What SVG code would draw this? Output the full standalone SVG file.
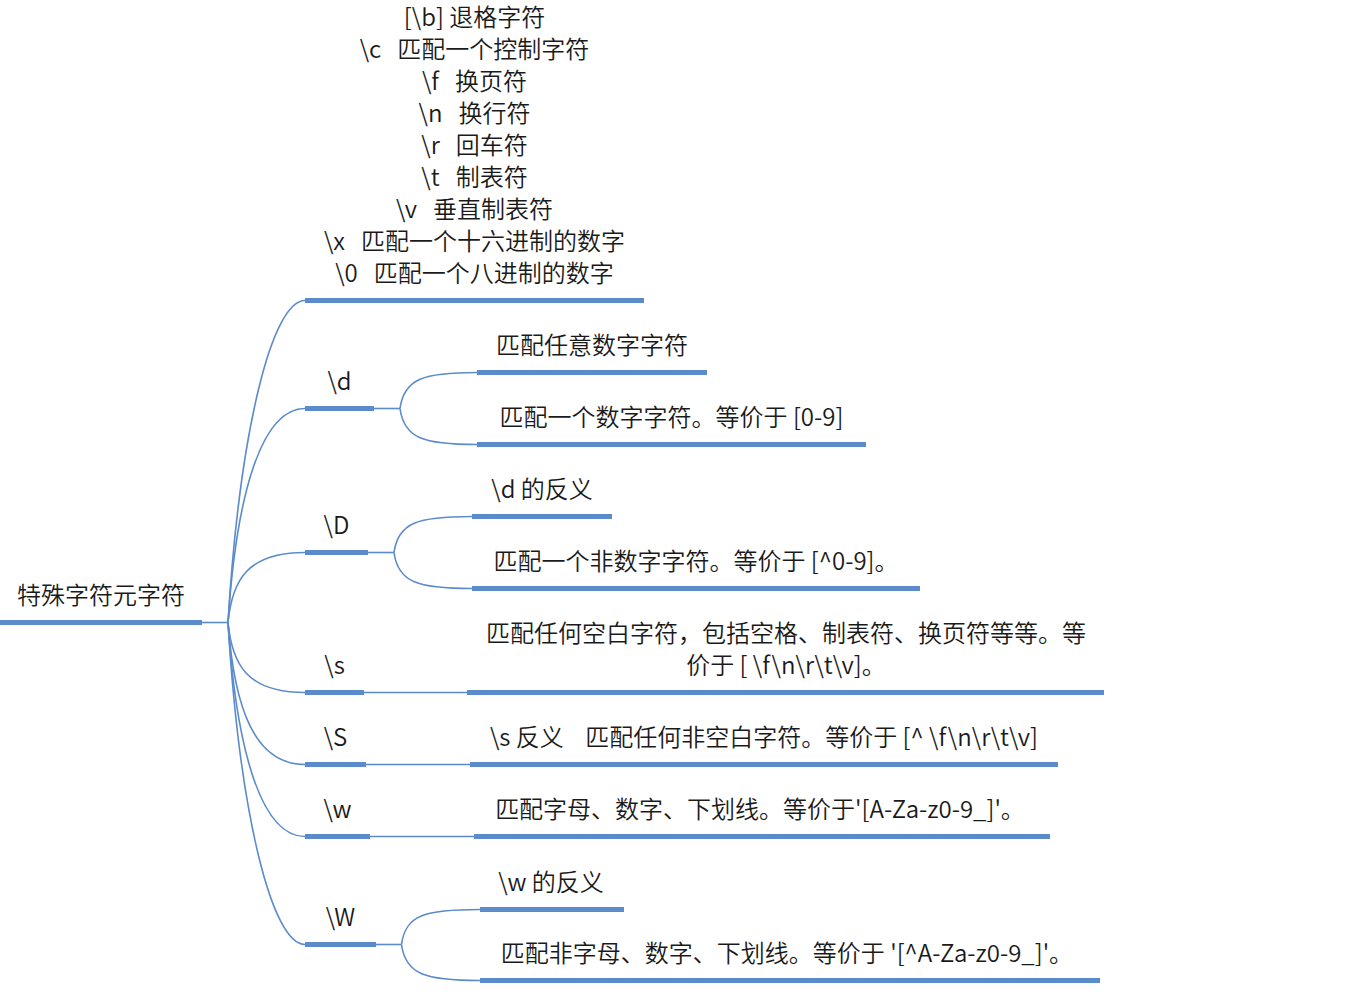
<svg xmlns="http://www.w3.org/2000/svg" width="1366" height="998" viewBox="0 0 1366 998">
<style>
  text { font-family: "Noto Sans CJK SC", "Noto Sans", sans-serif; font-size: 24px; font-weight: 350; fill: #1a1a1a; text-anchor: middle; white-space: pre; }
  .thick { stroke: #5b8bcb; stroke-width: 5; fill: none; }
  .thin { stroke: #5b8bcb; stroke-width: 1.6; fill: none; }
</style>
<rect width="1366" height="998" fill="#ffffff"/>
<g id="connectors">
  <line class="thin" x1="202" y1="622.5" x2="228" y2="622.5"/>
  <path class="thin" d="M228,622.5 C239.7,429.3 272.2,300.5 305,300.5"/>
  <path class="thin" d="M228,622.5 C236.4,494.1 261.4,408.5 305,408.5"/>
  <path class="thin" d="M228,622.5 C232.1,580.5 247,552.5 305,552.5"/>
  <path class="thin" d="M228,622.5 C232.1,664.5 247,692.5 305,692.5"/>
  <path class="thin" d="M228,622.5 C234.3,707.7 254.2,764.5 305,764.5"/>
  <path class="thin" d="M228,622.5 C236.4,750.9 261.4,836.5 305,836.5"/>
  <path class="thin" d="M228,622.5 C239.7,815.7 272.2,944.5 305,944.5"/>
  <line class="thin" x1="374" y1="408.5" x2="400" y2="408.5"/>
  <path class="thin" d="M400,408.5 C404,378.5 424,372.5 477,372.5"/>
  <path class="thin" d="M400,408.5 C404,438.5 424,444.5 477,444.5"/>
  <line class="thin" x1="368" y1="552.5" x2="394" y2="552.5"/>
  <path class="thin" d="M394,552.5 C398,522.5 418,516.5 472,516.5"/>
  <path class="thin" d="M394,552.5 C398,582.5 418,588.5 472,588.5"/>
  <line class="thin" x1="364" y1="692.5" x2="467" y2="692.5"/>
  <line class="thin" x1="366" y1="764.5" x2="470" y2="764.5"/>
  <line class="thin" x1="370" y1="836.5" x2="474" y2="836.5"/>
  <line class="thin" x1="376" y1="944.5" x2="401.5" y2="944.5"/>
  <path class="thin" d="M401.5,944.5 C405.5,914.5 425.5,909.5 480,909.5"/>
  <path class="thin" d="M401.5,944.5 C405.5,974.5 425.5,980.5 480,980.5"/>
</g>
<g id="root">
  <line class="thick" x1="0" y1="622.5" x2="202" y2="622.5"/>
  <text x="101" y="603.5">特殊字符元字符</text>
</g>
<g id="node-escapes">
  <line class="thick" x1="305" y1="300.5" x2="644" y2="300.5"/>
  <text x="474.5" y="25.5">[\b] 退格字符</text>
  <text x="474.5" y="57.5">\c   匹配一个控制字符</text>
  <text x="474.5" y="89.5">\f   换页符</text>
  <text x="474.5" y="121.5">\n   换行符</text>
  <text x="474.5" y="153.5">\r   回车符</text>
  <text x="474.5" y="185.5">\t   制表符</text>
  <text x="474.5" y="217.5">\v   垂直制表符</text>
  <text x="474.5" y="249.5">\x   匹配一个十六进制的数字</text>
  <text x="474.5" y="281.5">\0   匹配一个八进制的数字</text>
</g>
<g id="node-d">
  <line class="thick" x1="305" y1="408.5" x2="374" y2="408.5"/>
  <text x="339.5" y="389.5">\d</text>
</g>
<g id="node-d-1">
  <line class="thick" x1="477" y1="372.5" x2="707" y2="372.5"/>
  <text x="592" y="353.5">匹配任意数字字符</text>
</g>
<g id="node-d-2">
  <line class="thick" x1="477" y1="444.5" x2="866" y2="444.5"/>
  <text x="671.5" y="425.5">匹配一个数字字符。等价于 [0-9]</text>
</g>
<g id="node-D">
  <line class="thick" x1="305" y1="552.5" x2="368" y2="552.5"/>
  <text x="336.5" y="533.5">\D</text>
</g>
<g id="node-D-1">
  <line class="thick" x1="472" y1="516.5" x2="612" y2="516.5"/>
  <text x="542" y="497.5">\d 的反义</text>
</g>
<g id="node-D-2">
  <line class="thick" x1="472" y1="588.5" x2="920" y2="588.5"/>
  <text x="696" y="569.5">匹配一个非数字字符。等价于 [^0-9]。</text>
</g>
<g id="node-s">
  <line class="thick" x1="305" y1="692.5" x2="364" y2="692.5"/>
  <text x="334.5" y="673.5">\s</text>
</g>
<g id="node-s-1">
  <line class="thick" x1="467" y1="692.5" x2="1104" y2="692.5"/>
  <text x="786" y="641.5">匹配任何空白字符，包括空格、制表符、换页符等等。等</text>
  <text x="786" y="673.5">价于 [ \f\n\r\t\v]。</text>
</g>
<g id="node-S">
  <line class="thick" x1="305" y1="764.5" x2="366" y2="764.5"/>
  <text x="335.5" y="745.5">\S</text>
</g>
<g id="node-S-1">
  <line class="thick" x1="470" y1="764.5" x2="1058" y2="764.5"/>
  <text x="764" y="745.5">\s 反义    匹配任何非空白字符。等价于 [^ \f\n\r\t\v]</text>
</g>
<g id="node-w">
  <line class="thick" x1="305" y1="836.5" x2="370" y2="836.5"/>
  <text x="337.5" y="817.5">\w</text>
</g>
<g id="node-w-1">
  <line class="thick" x1="474" y1="836.5" x2="1050" y2="836.5"/>
  <text x="760" y="817.5">匹配字母、数字、下划线。等价于'[A-Za-z0-9_]'。</text>
</g>
<g id="node-W">
  <line class="thick" x1="305" y1="944.5" x2="376" y2="944.5"/>
  <text x="340.5" y="925.5">\W</text>
</g>
<g id="node-W-1">
  <line class="thick" x1="480" y1="909.5" x2="624" y2="909.5"/>
  <text x="551" y="890.5">\w 的反义</text>
</g>
<g id="node-W-2">
  <line class="thick" x1="480" y1="980.5" x2="1100" y2="980.5"/>
  <text x="787" y="961.5">匹配非字母、数字、下划线。等价于 '[^A-Za-z0-9_]'。</text>
</g>
</svg>
